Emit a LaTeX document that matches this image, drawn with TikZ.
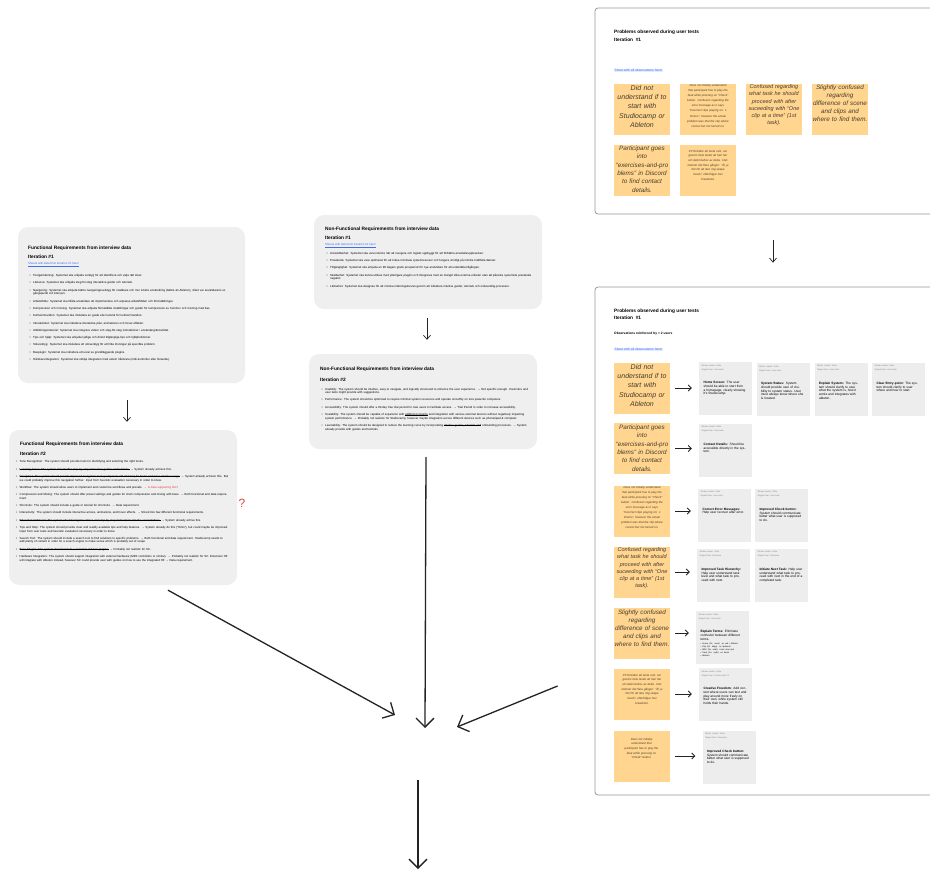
\documentclass[tikz,border=0pt]{standalone}
\usepackage{fontspec}
\setmainfont{Liberation Sans}
\usepackage{tikz}
\usetikzlibrary{positioning, arrows.meta, calc}
\definecolor{panelgray}{RGB}{239,239,239}
\definecolor{cardgray}{RGB}{237,237,237}
\definecolor{framegray}{RGB}{150,150,150}
\definecolor{stickyorange}{RGB}{255,213,143}
\definecolor{notetext}{RGB}{70,60,45}
\definecolor{linkblue}{RGB}{60,110,240}
\definecolor{linkbg}{RGB}{226,236,255}
\definecolor{notered}{RGB}{235,60,60}
\definecolor{inkgray}{RGB}{35,35,35}
\newcommand{\reqsize}{\fontsize{2.9}{3.6}\selectfont}
\newcommand{\reqitem}[1]{\par\hangindent=3.5pt\hangafter=1\noindent\makebox[3.5pt][l]{\textbullet}#1\par\vspace{3.7pt}}
% struck-through text, word by word
\newsavebox{\strikebox}
\newcommand{\strikeword}[1]{\sbox{\strikebox}{#1}\rlap{\rule[0.28em]{\wd\strikebox}{0.05em}}\usebox{\strikebox}}
\newcommand{\strikegap}{\leaders\hrule height 0.33em depth -0.28em\hskip 0.278em plus 0.14em minus 0.09em\relax}
\def\strike#1{\strikestep#1 \strikeend}
\def\strikestep#1 #2\strikeend{\strikeword{#1}\ifx\relax#2\relax\else\strikegap\strikestep#2\strikeend\fi}
\newcommand{\stickynote}[5]{%
  \node[stickybox] (#1) at (#2) {};
  \node[stickytext, font={#4}, anchor=north] (#1t) at ([yshift=-#3pt]#1.north) {#5};}
\newcommand{\obscard}[5]{%
  \node[card] (#1) at (#2) {};
  \node[cardhead] (#1h) at ([xshift=2.5pt,yshift=-2.5pt]#1.north west) {Sticker creator: Sofie\\Origins from: #3};
  \node[cardbody] (#1b) at ([xshift=4.5pt,yshift=-19.5pt]#1.north west) {\textbf{#4} #5};}

\begin{document}
\begin{tikzpicture}[x=1pt, y=-1pt, >={Straight Barb[length=9pt,width=18pt]},
  panel/.style={fill=panelgray, rounded corners=10pt, inner sep=0pt},
  frame/.style={draw=framegray, line width=0.8pt, rounded corners=3pt, inner sep=0pt},
  paneltitle/.style={anchor=west, inner sep=0pt, text=black, font=\fontsize{4.8}{5}\selectfont\bfseries},
  panellink/.style={anchor=west, inner sep=0pt, text=linkblue, font=\fontsize{2.9}{3.6}\selectfont},
  reqlist/.style={anchor=north west, inner sep=0pt, align=left, text=black, font=\reqsize},
  stickybox/.style={fill=stickyorange, minimum width=56pt, minimum height=51pt, inner sep=0pt},
  stickytext/.style={inner sep=0pt, text width=55pt, align=center, text=notetext},
  card/.style={fill=cardgray, minimum width=53pt, minimum height=53pt, inner sep=0pt},
  cardhead/.style={anchor=north west, inner sep=0pt, align=left, text=gray, font=\fontsize{2.1}{4}\selectfont},
  cardbody/.style={anchor=north west, inner sep=0pt, text width=43pt, align=left, text=black, font=\fontsize{3.2}{3.7}\selectfont},
  bigarrow/.style={->, line width=1.3pt, draw=inkgray},
  smallarrow/.style={-{Straight Barb[length=4pt,width=7pt]}, line width=0.7pt, draw=inkgray},
  obsarrow/.style={-{Straight Barb[length=3pt,width=6pt]}, line width=0.8pt, draw=inkgray, shorten <=5pt, shorten >=7pt}]
\useasboundingbox (0,0) rectangle (930,870);
\clip (0,0) rectangle (930,870);

% functional requirements, iteration 1
\node[panel, minimum width=227pt, minimum height=156pt] (fr1) at (131.5,305) {};
\node[paneltitle] (fr1title) at (28,248) {Functional Requirements from interview data};
\node[paneltitle] (fr1iter) at (28,256.5) {Iteration \#1};
\node[panellink] (fr1link) at (28,264.3) {\underline{Sheets with data from iteration \#1 here!}};
\node[reqlist, text width=206pt] (fr1list) at (29.5,272.8) {%
  \reqitem{Tonigenkänning: Systemet ska erbjuda verktyg för att identifiera och välja rätt toner.}
  \reqitem{Lärkurva: Systemet ska erbjuda steg-för-steg interaktiva guider och tutorials.}
  \reqitem{Navigering: Systemet ska erbjuda bättre navigeringsverktyg för snabbare och mer intuitiv användning (bättre än Ableton), vilket var användarens utgångspunkt vid intervjun.}
  \reqitem{Arbetsflöde: Systemet ska tillåta användare att implementera och anpassa arbetsflöden och förinställningar.}
  \reqitem{Kompression och mixning: Systemet ska erbjuda förinställda inställningar och guider för kompression av trummor och mixning med bas.}
  \reqitem{Kortkommandon: Systemet ska inkludera en guide eller tutorial för kortkommandon.}
  \reqitem{Interaktivitet: Systemet ska inkludera interaktiva pilar, animationer och hover-effekter.}
  \reqitem{Utbildningsmaterial: Systemet ska integrera videor och steg-för-steg instruktioner i användargränssnittet.}
  \reqitem{Tips och hjälp: Systemet ska erbjuda tydliga och direkt tillgängliga tips och hjälpfunktioner.}
  \reqitem{Sökverktyg: Systemet ska inkludera ett sökverktyg för att hitta lösningar på specifika problem.}
  \reqitem{Basplugin: Systemet ska inkludera ett urval av grundläggande plugins.}
  \reqitem{Hårdvaruintegration: Systemet ska stödja integration med extern hårdvara (midi-kontroller eller liknande).}};

% functional requirements, iteration 2
\node[panel, minimum width=228pt, minimum height=155pt] (fr2) at (123,507.5) {};
\node[paneltitle] (fr2title) at (20,444.3) {Functional Requirements from interview data};
\node[paneltitle] (fr2iter) at (20,453.3) {Iteration \#2};
\node[reqlist, text width=212pt] (fr2list) at (16,459) {%
  \reqitem{Tone Recognition: The system should provide tools for identifying and selecting the right tones.}
  \reqitem{\strike{Learning Curve: The system should offer step-by-step interactive guides and tutorials.} → System already achieve this.}
  \reqitem{\strike{Navigation: The system should provide improved navigation tools (compared with Ableton) for faster and more intuitive usage.} → System already achieve this. But we could probably improve this navigation further. Input from heuristic evaluation necessary in order to know.}
  \reqitem{Workflow: The system should allow users to implement and customize workflows and presets. {\color{notered}→ Is data supporting this?}}
  \reqitem{Compression and Mixing: The system should offer preset settings and guides for drum compression and mixing with bass. → Both functional and data requirement.}
  \reqitem{Shortcuts: The system should include a guide or tutorial for shortcuts. → Data requirement.}
  \reqitem{Interactivity: The system should include interactive arrows, animations, and hover effects. → Sliced into few different functional requirements.}
  \reqitem{\strike{Educational Material: The system should integrate videos and step-by-step instructions into the user interface.} → System already achive this.}
  \reqitem{Tips and Help: The system should provide clear and readily available tips and help features. → System already do this (“Hints”), but could maybe be improved. Input from user tests and heuristic evaluation necessary in order to know.}
  \reqitem{Search Tool: The system should include a search tool to find solutions to specific problems. → Both functional and data requirement. Studiocamp needs to add plenty of content in order for a search engine to make sense which is probably out of scope.}
  \reqitem{\strike{Base Plugins: The system should include a selection of basic plugins.} → Probably not realistic for SC.}
  \reqitem{Hardware Integration: The system should support integration with external hardware (MIDI controllers or similar). → Probably not realistic for SC. Extension HF will integrate with Ableton instead, however SC could provide user with guides on how to use the integrated HF → Data requirement.}};
\node[text=notered, font=\fontsize{12}{12}\selectfont] (qmark) at (242,503) {?};

% non-functional requirements, iteration 1
\node[panel, minimum width=228pt, minimum height=94pt] (nfr1) at (428,262) {};
\node[paneltitle] (nfr1title) at (325,229.3) {Non-Functional Requirements from interview data};
\node[paneltitle] (nfr1iter) at (325,237.7) {Iteration \#1};
\node[panellink] (nfr1link) at (325,245.3) {\underline{Sheets with data from iteration \#1 here!}};
\node[reqlist, text width=208pt] (nfr1list) at (326.5,250.5) {%
  \reqitem{Användbarhet: Systemet ska vara intuitivt, lätt att navigera och logiskt uppbyggt för att förbättra användarupplevelsen.}
  \reqitem{Prestanda: Systemet ska vara optimerat för att kräva minimala systemresurser och fungera smidigt på mindre kraftfulla datorer.}
  \reqitem{Tillgänglighet: Systemet ska erbjuda en 90 dagars gratis provperiod för nya användare för att underlätta tillgången.}
  \reqitem{Skalbarhet: Systemet ska kunna utökas med ytterligare plugins och integreras med en mängd olika externa enheter utan att påverka systemets prestanda negativt.}
  \reqitem{Lärbarhet: Systemet ska designas för att minska inlärningskurvan genom att inkludera intuitiva guider, tutorials och onboarding-processer.}};

% non-functional requirements, iteration 2
\node[panel, minimum width=228pt, minimum height=95pt] (nfr2) at (423,401.5) {};
\node[paneltitle] (nfr2title) at (320,369) {Non-Functional Requirements from interview data};
\node[paneltitle] (nfr2iter) at (320,379.3) {Iteration \#2};
\node[reqlist, text width=207pt] (nfr2list) at (321.5,386.2) {%
  \reqitem{Usability: The system should be intuitive, easy to navigate, and logically structured to enhance the user experience. → Not specific enough. Heuristics and user tests might provide with suggestions.}
  \reqitem{Performance: The system should be optimized to require minimal system resources and operate smoothly on less powerful computers.}
  \reqitem{Accessibility: The system should offer a 90-day free trial period for new users to facilitate access. → Trial Period in order to increase accessibility.}
  \reqitem{Scalability: The system should be capable of expansion with \strike{additional plugins} and integration with various external devices without negatively impacting system performance. → Probably not realistic for Studiocamp, however maybe integration across different devices such as phone/ipad \& computer.}
  \reqitem{Learnability: The system should be designed to reduce the learning curve by incorporating \strike{intuitive guides, tutorials and} onboarding processes. → System already provide with guides and tutorials.}};

% problems observed, first board
\node[frame, minimum width=350pt, minimum height=206pt] (probs1) at (770,111) {};
\node[paneltitle] (probs1title) at (614,32.3) {Problems observed during user tests};
\node[paneltitle] (probs1iter) at (614,39.3) {Iteration\ \ \#1};
\node[panellink, fill=linkbg, inner sep=0.4pt, font=\fontsize{3.3}{4}\selectfont] (probs1link) at (614,70.7) {Sheet with all observations here!};
\stickynote{ta}{642,109}{2}{\fontsize{7}{9.2}\selectfont\itshape}{Did not\\understand if to\\start with\\Studiocamp or\\Ableton}
\stickynote{tb}{708,109}{0.8}{\fontsize{2.9}{5.1}\selectfont\itshape}{Does not initially understand\\that participant has to play the\\beat while pressing on “Check”\\button. Confusion regarding the\\error message as it says\\“Incorrect clips playing on: 1\\Drums”, however the actual\\problem was that the clip where\\correct but not turned on.}
\stickynote{tc}{774,109}{1}{\fontsize{5.5}{7.3}\selectfont\itshape}{Confused regarding\\what task he should\\proceed with after\\suceeding with “One\\clip at a time” (1st\\task).}
\stickynote{td}{840,109}{1.5}{\fontsize{6.3}{8.1}\selectfont\itshape}{Slightly confused\\regarding\\difference of scene\\and clips and\\where to find them.}
\stickynote{te}{642,170}{1.5}{\fontsize{6.3}{8.3}\selectfont\itshape}{Participant goes\\into\\“exercises-and-pro\\blems” in Discord\\to find contact\\details.}
\stickynote{tf}{708,170}{5.5}{\fontsize{2.9}{4.7}\selectfont\itshape}{P3 försöker att testa runt, ser\\genom hela testet att han har\\ett starkt behov av detta. Han\\nämner det flera gånger: ”Är ju\\här för att lära mig skapa\\musik”, efterfrågar mer\\kreativitet.}

% problems observed, sorted into requirement cards
\node[frame, minimum width=350pt, minimum height=508pt] (probs2) at (770,541) {};
\node[paneltitle] (probs2title) at (614,311) {Problems observed during user tests};
\node[paneltitle] (probs2iter) at (614,318) {Iteration\ \ \#1};
\node[anchor=west, inner sep=0pt, font=\fontsize{3.3}{4}\selectfont\bfseries] (probs2note) at (614,334) {Observations reinforced by > 2 users};
\node[panellink, fill=linkbg, inner sep=0.4pt, font=\fontsize{3.3}{4}\selectfont] (probs2link) at (614,349.3) {Sheet with all observations here!};
\stickynote{la}{642,388}{2}{\fontsize{7}{9.2}\selectfont\itshape}{Did not\\understand if to\\start with\\Studiocamp or\\Ableton}
\stickynote{lb}{642,448.5}{2}{\fontsize{6.3}{8.3}\selectfont\itshape}{Participant goes\\into\\“exercises-and-pro\\blems” in Discord\\to find contact\\details.}
\stickynote{lc}{642,511}{0.5}{\fontsize{2.9}{5.1}\selectfont\itshape}{Does not initially understand\\that participant has to play the\\beat while pressing on “Check”\\button. Confusion regarding the\\error message as it says\\“Incorrect clips playing on: 1\\Drums”, however the actual\\problem was that the clip where\\correct but not turned on.}
\stickynote{ld}{642,572}{1}{\fontsize{5.5}{7.3}\selectfont\itshape}{Confused regarding\\what task he should\\proceed with after\\suceeding with “One\\clip at a time” (1st\\task).}
\stickynote{le}{642,633}{2}{\fontsize{6.3}{8.1}\selectfont\itshape}{Slightly confused\\regarding\\difference of scene\\and clips and\\where to find them.}
\stickynote{lf}{642,694}{5.5}{\fontsize{2.9}{4.7}\selectfont\itshape}{P3 försöker att testa runt, ser\\genom hela testet att han har\\ett starkt behov av detta. Han\\nämner det flera gånger: ”Är ju\\här för att lära mig skapa\\musik”, efterfrågar mer\\kreativitet.}
\stickynote{lg}{641.5,756}{7.5}{\fontsize{2.9}{4.7}\selectfont\itshape}{Does not initially\\understand that\\participant has to play the\\beat while pressing on\\“Check” button.}

\obscard{c1a}{725.5,388.5}{User tests}{Home Screen:}{The user should be able to start from a homepage, clearly showing it's Studiocamp.}
\obscard{c1b}{783,389.5}{User tests}{System Status:}{System should provide user of visibility to system status. User must always know where she is located.}
\obscard{c1c}{841,389}{User tests}{Explain System:}{The system should clarify to user what the system is, how it works and integrates with ableton.}
\obscard{c1d}{898.5,389}{User tests}{Clear Entry-point:}{The system should clarify to user where and how to start.}
\obscard{c2a}{725.5,450}{User tests}{Contact Details:}{Should be accessible directly in the system.}
\obscard{c3a}{724.5,515}{User tests}{Correct Error Messages:}{Help user recover after error.}
\obscard{c3b}{781.5,515}{User tests}{Improved Check button:}{System should communicate better what user is supposed to do.}
\obscard{c4a}{723.5,575}{Overview}{Improved Task Hierarchy:}{Help user understand task level and what task to proceed with next.}
\obscard{c4b}{781.5,575}{Overview}{Initiate Next Task:}{Help user understand what task to proceed with next in the end of a completed task.}
\obscard{c5a}{722.5,637.5}{User tests}{Explain Terms:}{Eliminate confusion between different terms.\par\vspace{2pt}{\fontsize{2.1}{2.7}\selectfont
  \textbullet\ Scene (Sv. scen): en rad i Ableton\\
  \textbullet\ Clip (Sv. klipp): en ljudsnutt\\
  \textbullet\ MIDI (Sv. midi): noter utan ljud\\
  \textbullet\ Track (Sv. spår): en kanal\\
  \textbullet\ Ableton}}
\obscard{c6a}{725.5,694.5}{Contact with P3}{Creative Freedom:}{Add content where users can test and play around more freely on their own, while system still holds their hands.}
\obscard{c7a}{729,757}{Overview}{Improved Check button:}{System should communicate better what user is supposed to do.}
\foreach \s/\c in {la/c1a, lb/c2a, lc/c3a, ld/c4a, le/c5a, lf/c6a, lg/c7a}
  \draw[obsarrow] (\s.east) -- (\s.east -| \c.west);

% flow between the boards
\draw[smallarrow] ($(fr1.south)+(-4.5,17)$) -- ($(fr2.north)+(4,-8)$);
\draw[smallarrow] ($(nfr1.south)+(-1,9)$) -- ($(nfr2.north)+(4,-14)$);
\draw[smallarrow] ($(probs1.south)+(3,26)$) -- ($(probs2.north)+(3,-24)$);
\coordinate (merge) at (425,728);
\coordinate (next) at (418,869);
\draw[bigarrow] ($(fr2.south)+(45,5)$) -- ($(merge)+(-30,-13)$);
\draw[bigarrow] ($(nfr2.south)+(3,8)$) -- (merge);
\draw[bigarrow] ($(probs2.west)+(-37,145)$) -- ($(merge)+(32,-1)$);
\draw[bigarrow] ($(merge)+(-7,52)$) -- (next);
\end{tikzpicture}
\end{document}
